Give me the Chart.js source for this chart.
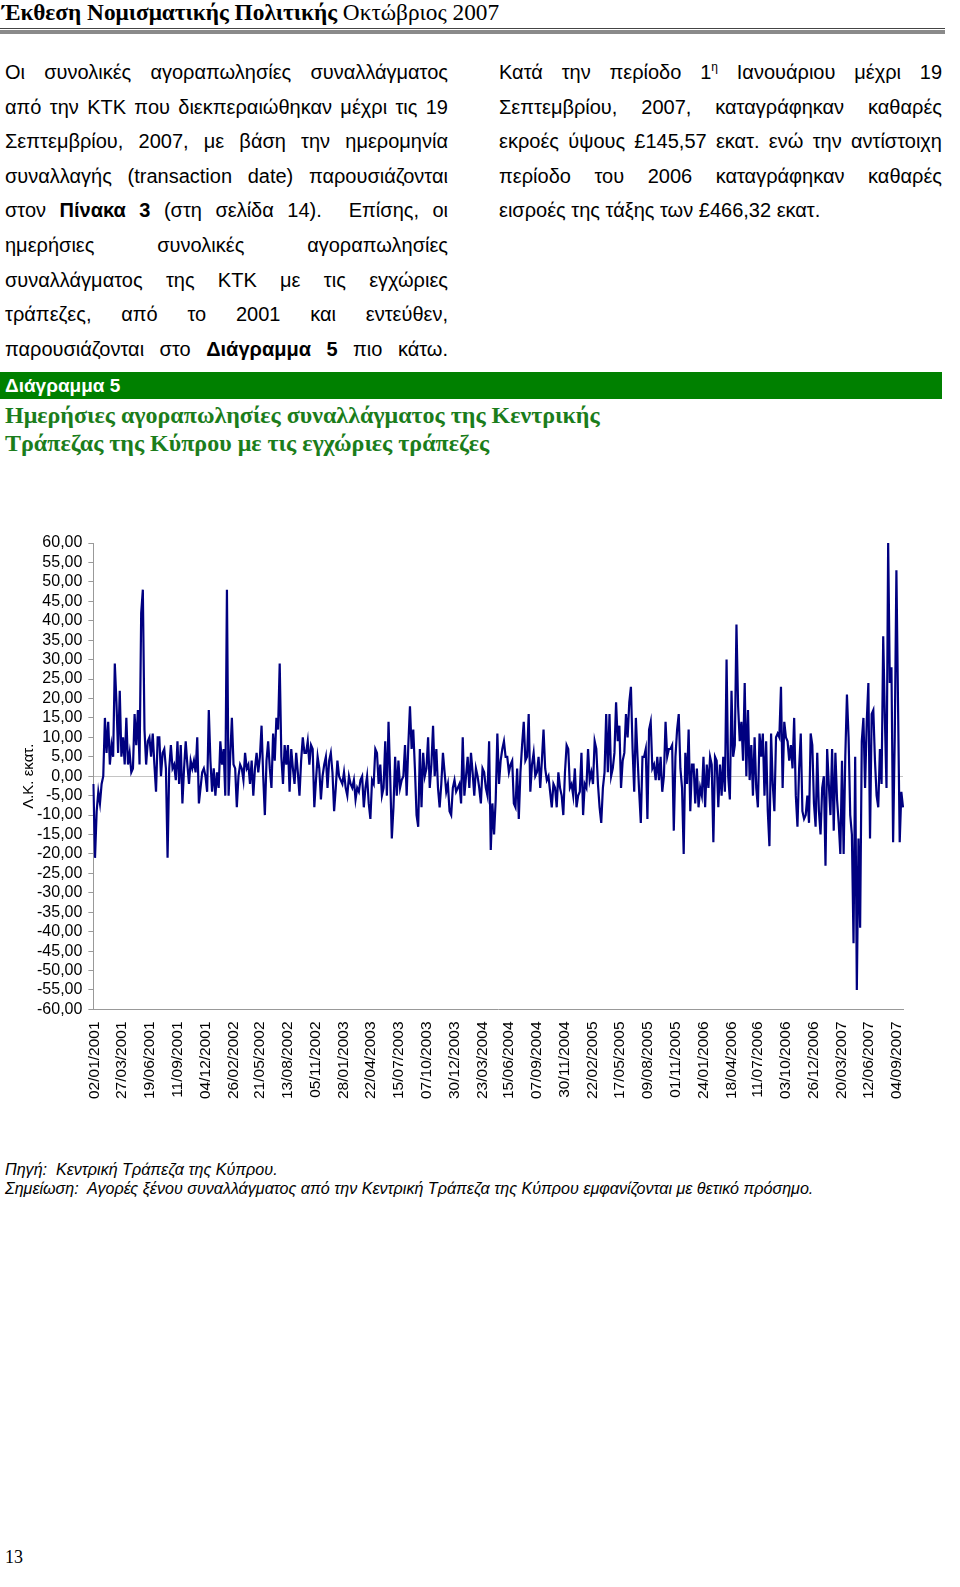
<!DOCTYPE html>
<html><head><meta charset="utf-8">
<script src="https://cdn.jsdelivr.net/npm/chart.js@4.4.1/dist/chart.umd.min.js"></script>
<style>
html,body{margin:0;padding:0;background:#fff;}
body{width:960px;height:1587px;position:relative;overflow:hidden;font-family:"Liberation Sans",Arial,sans-serif;color:#000;}
.abs{position:absolute;}
#hdr{left:2px;top:-1px;font-family:"Liberation Serif","Times New Roman",serif;font-size:23.3px;line-height:27px;white-space:nowrap;}
#rule1{left:0;top:28px;width:945px;height:1px;background:#444;}
#rule2{left:0;top:30px;width:945px;height:4px;background:#8a8a8a;}
.col{font-size:20px;line-height:34.6px;}
.col div{text-align:justify;text-align-last:justify;}
.col div.last{text-align-last:left;}
#left{left:5px;top:55px;width:443px;}
#right{left:499px;top:55px;width:443px;}
sup{font-size:12px;line-height:0;vertical-align:8px;}
#gbar{left:0;top:372px;width:942px;height:27px;background:#008000;color:#fff;font-weight:bold;font-size:19px;line-height:27px;padding-left:5px;box-sizing:border-box;}
#gtitle{left:5px;top:401px;font-family:"Liberation Serif","Times New Roman",serif;font-weight:bold;font-size:24px;line-height:28px;color:#1b7d1b;white-space:nowrap;}
#c{position:absolute;left:0;top:520px;}
#notes{left:5px;top:1160px;font-style:italic;font-size:16.1px;line-height:19px;white-space:nowrap;}
#page{left:5px;top:1547px;font-family:"Liberation Serif","Times New Roman",serif;font-size:18px;line-height:21px;}
</style></head>
<body>
<div id="hdr" class="abs"><b>Έκθεση Νομισματικής Πολιτικής</b> Οκτώβριος 2007</div>
<div id="rule1" class="abs"></div>
<div id="rule2" class="abs"></div>

<div id="left" class="abs col">
<div>Οι συνολικές αγοραπωλησίες συναλλάγματος</div>
<div>από την ΚΤΚ που διεκπεραιώθηκαν μέχρι τις 19</div>
<div>Σεπτεμβρίου, 2007, με βάση την ημερομηνία</div>
<div>συναλλαγής (transaction date) παρουσιάζονται</div>
<div>στον <b>Πίνακα 3</b> (στη σελίδα 14).&nbsp; Επίσης, οι</div>
<div>ημερήσιες συνολικές αγοραπωλησίες</div>
<div>συναλλάγματος της ΚΤΚ με τις εγχώριες</div>
<div>τράπεζες, από το 2001 και εντεύθεν,</div>
<div>παρουσιάζονται στο <b>Διάγραμμα 5</b> πιο κάτω.</div>
</div>

<div id="right" class="abs col">
<div>Κατά την περίοδο 1<sup>η</sup> Ιανουάριου μέχρι 19</div>
<div>Σεπτεμβρίου, 2007, καταγράφηκαν καθαρές</div>
<div>εκροές ύψους £145,57 εκατ. ενώ την αντίστοιχη</div>
<div>περίοδο του 2006 καταγράφηκαν καθαρές</div>
<div class="last">εισροές της τάξης των £466,32 εκατ.</div>
</div>

<div id="gbar" class="abs">Διάγραμμα 5</div>
<div id="gtitle" class="abs">Ημερήσιες αγοραπωλησίες συναλλάγματος της Κεντρικής<br>Τράπεζας της Κύπρου με τις εγχώριες τράπεζες</div>

<canvas id="c" width="960" height="600"></canvas>

<div id="notes" class="abs">Πηγή:&nbsp; Κεντρική Τράπεζα της Κύπρου.<br>Σημείωση:&nbsp; Αγορές ξένου συναλλάγματος από την Κεντρική Τράπεζα της Κύπρου εμφανίζονται με θετικό πρόσημο.</div>
<div id="page" class="abs">13</div>

<script>
// Date tick labels shown on the x axis
const dateTicks = ['02/01/2001','27/03/2001','19/06/2001','11/09/2001','04/12/2001','26/02/2002','21/05/2002','13/08/2002','05/11/2002','28/01/2003','22/04/2003','15/07/2003','07/10/2003','30/12/2003','23/03/2004','15/06/2004','07/09/2004','30/11/2004','22/02/2005','17/05/2005','09/08/2005','01/11/2005','24/01/2006','18/04/2006','11/07/2006','03/10/2006','26/12/2006','20/03/2007','12/06/2007','04/09/2007'];

// Daily net FX purchases (+) / sales (-), CYP million, sampled readings
const flows2001to2003 = [
-2,-21,-9,-4,-7,-2,0,15,6,14,
3,8,5,29,19,6,22,5,10,3,
15,3,6,1,2,16,8,17,3,42,
48,12,3,9,10,5,11,3,-4,10,
10,0,6,7,2,-21,2,8,2,3,
-1,9,-2,8,-7,2,9,3,-2,4,
2,4,1,10,-7,-3,1,2,0,-4,
17,4,-4,2,-5,1,-3,9,3,7,
-5,48,-5,5,15,3,2,-8,0,3,
2,-1,6,2,3,-2,4,-5,2,6,
1,5,13,0,-10,4,9,2,-3,11,
4,15,12,29,5,-2,8,3,8,-4,
7,2,-2,6,1,-5,4,10,6,6,
9,3,8,7,-8,-1,5,2,-6,0,
3,5,-3,4,6,1,-9,-3,4,0,
-1,-2,1,-3,-5,0,-2,-3,-1,-6,
-3,-4,-1,0,-8,-3,0,-7,-11,-1,
-2];
const flows2003to2005 = [
7,6,-2,3,-5,-3,9,-5,14,0,
-16,-8,5,-5,4,-3,-1,0,8,-5,
8,18,7,12,2,-10,-13,7,-8,6,
0,2,10,-3,3,13,0,7,-3,-8,
-2,6,1,-4,-2,-9,-10,-3,-1,-4,
-3,-2,-7,10,-5,0,5,-3,6,1,
-5,2,0,-3,-7,2,1,-3,-5,9,
-19,-7,-15,-6,11,-2,4,7,9,5,
5,1,3,4,-7,-8,2,-11,1,8,
14,4,5,16,-4,3,6,0,1,5,
-3,4,12,2,-1,0,-4,-8,-2,-3,
-8,1,-3,-5,-10,1,8,7,-3,-2,
-5,2,-8,-5,-4,6,-10,-2,-3,7,
-1,1,-2,9,7,-2,-8,-12,-3,1,
16,1,16,0,2,6,19,9,13,-3,
4,6,16,10,19,23,7,-4,15,5,
-4,-12,5,5,7,-11,12,14,2,3,
-1,5,-1,5,-4,0,14,5,7,7];
const flows2005to2007 = [
8,-14,5,12,16,2,-3,-20,6,-2,
12,-9,3,3,-7,2,-8,-3,-5,5,
-8,3,-3,5,3,-17,5,4,-8,3,
-5,5,-4,30,0,-6,22,5,8,39,
18,9,14,4,24,0,17,-1,8,-5,
10,-3,-8,11,5,11,-5,9,-9,-18,
11,-2,-9,10,11,10,23,-3,14,10,
9,4,8,2,15,-5,-13,2,11,-9,
-11,-10,-5,-12,11,8,-7,-13,6,-9,
-15,-3,0,-23,7,-2,-10,7,-14,6,
-6,-12,-20,4,-20,5,21,10,-10,-15,
-43,5,-55,-16,-39,9,15,-3,14,24,
-16,16,17,4,-5,-8,7,-2,36,15,
-3,60,24,28,-17,10,53,18,-17,-4,
-8];

const values = [...flows2001to2003, ...flows2003to2005, ...flows2005to2007];

// Each date tick sits every ~16.78 samples (60 business days)
const SAMPLES_PER_TICK = 16.78, TICK_OFFSET = 0.6;
const categories = values.map(() => '');
dateTicks.forEach((d, i) => { categories[Math.round(TICK_OFFSET + i * SAMPLES_PER_TICK)] = d; });

const fontFamily = '"Liberation Sans", Arial, sans-serif';

new Chart(document.getElementById('c'), {
  type: 'line',
  data: {
    labels: categories,
    datasets: [{
      data: values,
      borderColor: '#000080',
      borderWidth: 2.2,
      pointRadius: 0,
      tension: 0,
      fill: false
    }]
  },
  options: {
    responsive: false,
    animation: false,
    layout: {padding: {left: 6, top: 23, right: 57, bottom: 17}},
    plugins: {legend: {display: false}, tooltip: {enabled: false}},
    scales: {
      x: {
        type: 'category',
        offset: false,
        grid: {display: false},
        border: {display: true, color: '#999', width: 1},
        ticks: {autoSkip: false, maxRotation: 90, minRotation: 90, padding: 4, font: {family: fontFamily, size: 15.5}, color: '#000'}
      },
      y: {
        min: -60, max: 60,
        grid: {
          color: c => (c.tick && c.tick.value === 0) ? '#c4c4c4' : 'rgba(0,0,0,0)',
          drawTicks: true, tickLength: 5, tickColor: '#999'
        },
        border: {display: true, color: '#999', width: 1},
        ticks: {stepSize: 5, autoSkip: false, padding: 6, font: {family: fontFamily, size: 16}, color: '#000',
          callback: v => v.toFixed(2).replace('.', ',')},
        title: {display: true, text: 'Λ.Κ. εκατ.', font: {family: fontFamily, size: 15}, color: '#000', padding: {top: 14, bottom: -7}}
      }
    }
  }
});
</script>
</body></html>
